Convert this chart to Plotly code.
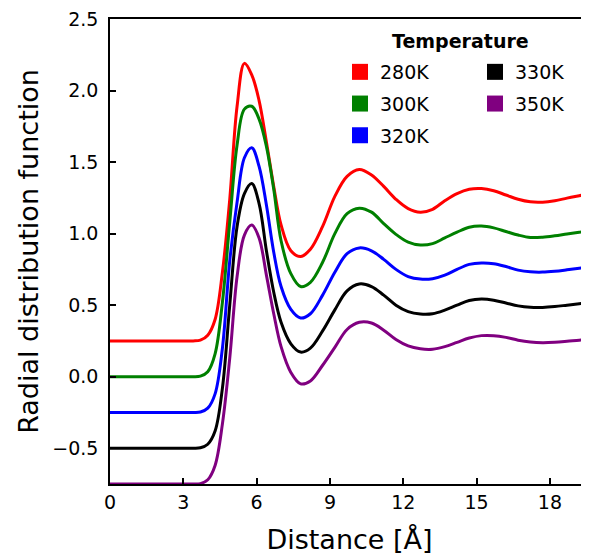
import plotly.graph_objects as go

# Distance grid [Å]
r = [0, 3.0, 3.4, 3.7, 4.0, 4.3, 4.6, 4.9, 5.2, 5.5, 5.8, 6.1, 6.4, 6.7, 7.0, 7.4, 7.8, 8.2,
     8.7, 9.2, 9.7, 10.2, 10.7, 11.2, 11.7, 12.2, 12.7, 13.2, 13.7, 14.2, 14.7, 15.2, 15.7,
     16.2, 16.7, 17.2, 17.7, 18.2, 18.7, 19.2, 19.6]

g_280 = [0, 0, 0, 0.005, 0.04, 0.15, 0.48, 0.99, 1.64, 1.94, 1.86, 1.68, 1.39, 1.08, 0.81, 0.63,
         0.59, 0.64, 0.80, 1.01, 1.15, 1.198, 1.16, 1.08, 0.99, 0.925, 0.90, 0.92, 0.98, 1.03,
         1.06, 1.065, 1.05, 1.02, 0.99, 0.972, 0.97, 0.98, 0.998, 1.015, 1.028]
g_300 = [0, 0, 0, 0.004, 0.035, 0.16, 0.52, 1.08, 1.62, 1.87, 1.89, 1.80, 1.61, 1.31, 0.95, 0.72,
         0.63, 0.66, 0.80, 1.00, 1.14, 1.178, 1.15, 1.07, 0.995, 0.94, 0.92, 0.93, 0.97, 1.01,
         1.045, 1.053, 1.04, 1.015, 0.99, 0.973, 0.975, 0.985, 0.998, 1.01, 1.018]
g_320 = [0, 0, 0, 0.003, 0.03, 0.13, 0.45, 1.06, 1.47, 1.78, 1.85, 1.72, 1.45, 1.12, 0.88, 0.72,
         0.66, 0.69, 0.82, 0.98, 1.11, 1.15, 1.13, 1.07, 1.00, 0.95, 0.932, 0.935, 0.96, 1.00,
         1.035, 1.045, 1.04, 1.02, 0.995, 0.983, 0.981, 0.987, 0.997, 1.008, 1.016]
g_330 = [0, 0, 0, 0.003, 0.028, 0.12, 0.42, 1.00, 1.55, 1.78, 1.85, 1.71, 1.38, 1.09, 0.88, 0.73,
         0.672, 0.70, 0.82, 0.967, 1.10, 1.148, 1.13, 1.07, 1.00, 0.955, 0.938, 0.94, 0.965, 1.00,
         1.033, 1.043, 1.035, 1.015, 0.995, 0.985, 0.984, 0.99, 1.00, 1.01, 1.017]
g_350 = [0, 0, 0, 0.003, 0.03, 0.13, 0.42, 0.88, 1.45, 1.74, 1.81, 1.72, 1.46, 1.19, 0.96, 0.78,
         0.70, 0.72, 0.83, 0.955, 1.08, 1.13, 1.125, 1.075, 1.01, 0.965, 0.945, 0.942, 0.96, 0.99,
         1.02, 1.037, 1.037, 1.025, 1.005, 0.992, 0.987, 0.99, 0.997, 1.005, 1.01]

temperatures = ["280K", "300K", "320K", "330K", "350K"]
offsets = [0.25, 0.0, -0.25, -0.5, -0.75]
colors = ["#ff0000", "#008000", "#0000ff", "#000000", "#800080"]
series = [g_280, g_300, g_320, g_330, g_350]

x_ticks = [0, 3, 6, 9, 12, 15, 18]
y_ticks = [-0.5, 0.0, 0.5, 1.0, 1.5, 2.0, 2.5]

FONT = "DejaVu Sans"
fig = go.Figure()

for name, off, col, g in zip(temperatures, offsets, colors, series):
    y = [v + off for v in g]
    fig.add_trace(go.Scatter(x=r, y=y, mode="lines",
                             line=dict(color=col, width=3, shape="spline", smoothing=1.0),
                             showlegend=False, hoverinfo="skip"))

# legend entries: two columns
for i, (name, col) in enumerate(zip(temperatures, colors)):
    fig.add_trace(go.Scatter(x=[None], y=[None], mode="markers", name=name,
                             marker=dict(symbol="square", size=16, color=col),
                             legend="legend" if i < 3 else "legend2", legendgroup=name))

# figure coordinates (the page adds an 8 px body margin)
FW, FH = 581, 547
W0, W1, H0, H1 = 102, 581, 11, 476
def px(x):
    return (x - W0) / (W1 - W0)
def py(y):
    return (H1 - y) / (H1 - H0)

leg_common = dict(font=dict(family=FONT, size=19, color="black"), bgcolor="rgba(0,0,0,0)",
                  xanchor="left", yanchor="top", tracegroupgap=4, itemsizing="trace")
fig.update_layout(
    legend=dict(x=px(332), y=py(45), **leg_common),
    legend2=dict(x=px(467), y=py(45), **leg_common),
)

fig.add_annotation(text="<b>Temperature</b>", x=px(452), y=py(33), xref="paper", yref="paper",
                   xanchor="center", yanchor="middle",
                   showarrow=False, font=dict(family=FONT, size=19, color="black"))

fig.update_layout(
    width=FW, height=FH,
    margin=dict(l=W0, r=FW - W1, t=H0, b=FH - H1, autoexpand=False),
    paper_bgcolor="white", plot_bgcolor="white",
    font=dict(family=FONT, color="black"),
    xaxis=dict(range=[0, 19.6], tickvals=x_ticks, ticks="inside", ticklen=6, tickwidth=1.5,
               tickcolor="black", showline=True, linecolor="black", linewidth=1.5, mirror=True,
               showgrid=False, zeroline=False, tickfont=dict(size=19, family=FONT),
               automargin=False, ticklabeloverflow="allow",
               title=dict(text="Distance [Å]", font=dict(size=27, family=FONT), standoff=22)),
    yaxis=dict(range=[-0.75, 2.5], tickvals=y_ticks, tickformat=".1f", ticks="inside", ticklen=6,
               tickwidth=1.5, tickcolor="black", showline=True, linecolor="black", linewidth=1.5,
               mirror=True, showgrid=False, zeroline=False, tickfont=dict(size=19, family=FONT),
               ticklabelstandoff=6, automargin=False, ticklabeloverflow="allow",
               title=dict(text="Radial distribution function", font=dict(size=27, family=FONT), standoff=6)),
)

fig.write_html("out.html")
